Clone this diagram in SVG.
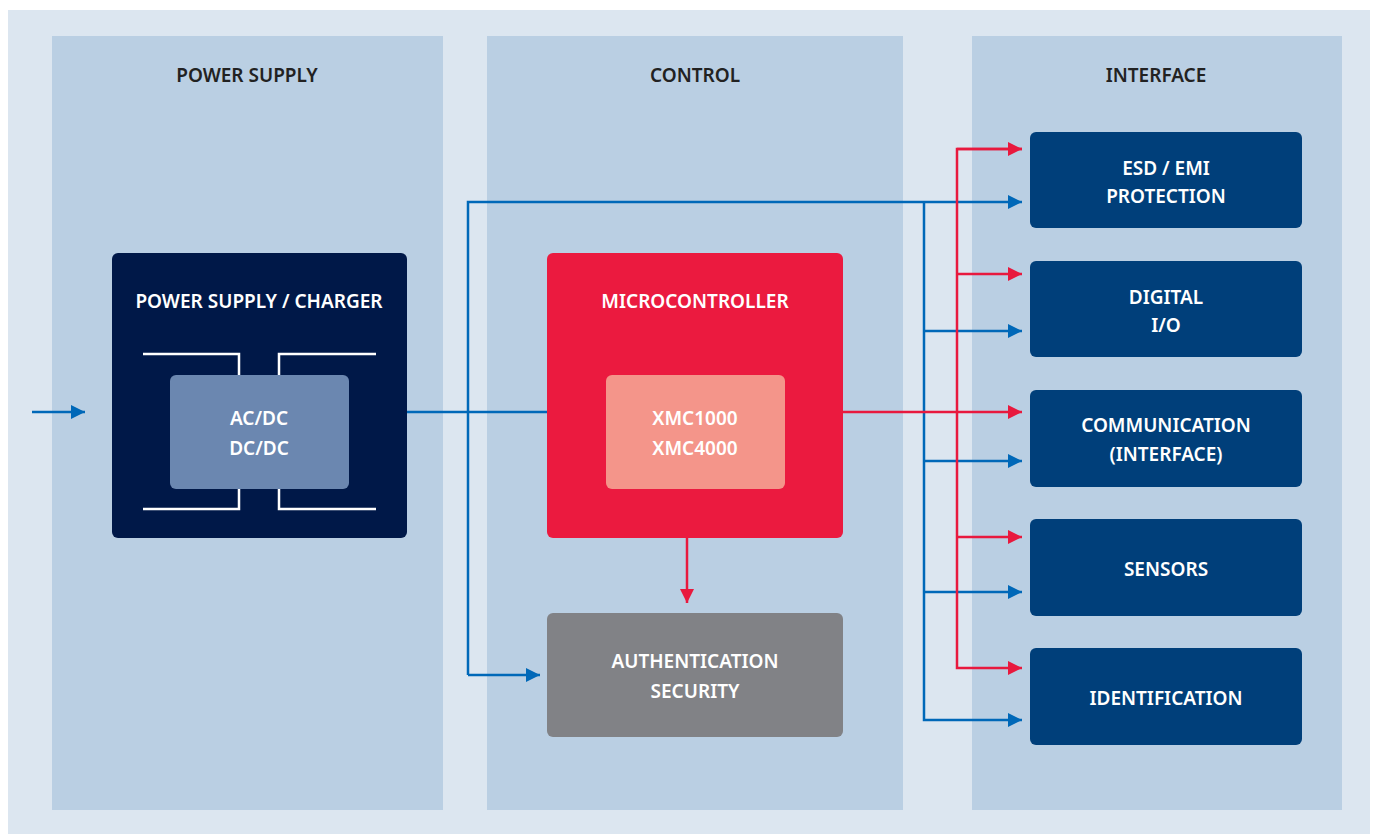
<svg xmlns="http://www.w3.org/2000/svg" width="1377" height="834" viewBox="0 0 1377 834">
<style>
.col{fill:#bacfe3}
.ttl{font-family:"Noto Sans","Open Sans",sans-serif;font-weight:600;font-size:19px;fill:#222;text-anchor:middle}
.lbl{font-family:"Noto Sans","Open Sans",sans-serif;font-weight:600;font-size:19px;fill:#fff;text-anchor:middle}
.ib{fill:#003f7a}
.b{stroke:#0068b8;stroke-width:2.5;fill:none}
.r{stroke:#e8193e;stroke-width:2.5;fill:none}
.w{stroke:#fff;stroke-width:2.5;fill:none}
</style>
<defs>
<marker id="ab" viewBox="0 0 10 10" refX="10" refY="5" markerWidth="18" markerHeight="14" markerUnits="userSpaceOnUse" orient="auto"><path d="M0,0L10,5L0,10z" fill="#0068b8"/></marker>
<marker id="ar" viewBox="0 0 10 10" refX="10" refY="5" markerWidth="18" markerHeight="14" markerUnits="userSpaceOnUse" orient="auto"><path d="M0,0L10,5L0,10z" fill="#e8193e"/></marker>
</defs>
<rect width="1377" height="834" fill="#fff"/>
<rect x="8" y="10" width="1362" height="824" fill="#dce6f0"/>
<g id="col-power"><rect class="col" x="52" y="36" width="391" height="774"/><text class="ttl" x="247" y="82">POWER SUPPLY</text></g>
<g id="col-control"><rect class="col" x="487" y="36" width="416" height="774"/><text class="ttl" x="695" y="82">CONTROL</text></g>
<g id="col-interface"><rect class="col" x="972" y="36" width="370" height="774"/><text class="ttl" x="1156" y="82">INTERFACE</text></g>

<g id="connectors">
<path class="b" d="M32,412H85" marker-end="url(#ab)"/>
<path class="b" d="M407,412H547"/>
<path class="b" d="M468,675V202H1022" marker-end="url(#ab)"/>
<path class="b" d="M468,675H540" marker-end="url(#ab)"/>
<path class="b" d="M924,202V720H1022" marker-end="url(#ab)"/>
<path class="b" d="M924,331H1022" marker-end="url(#ab)"/>
<path class="b" d="M924,461H1022" marker-end="url(#ab)"/>
<path class="b" d="M924,592H1022" marker-end="url(#ab)"/>
<path class="r" d="M843,412H1022" marker-end="url(#ar)"/>
<path class="r" d="M1022,149H957V668H1022" marker-end="url(#ar)"/>
<path class="r" d="M957,149H1022" marker-end="url(#ar)"/>
<path class="r" d="M957,274H1022" marker-end="url(#ar)"/>
<path class="r" d="M957,537H1022" marker-end="url(#ar)"/>
<path class="r" d="M687,538V603" marker-end="url(#ar)"/>
</g>

<g id="power-supply-charger">
<rect x="112" y="253" width="295" height="285" rx="6" fill="#001848"/>
<text class="lbl" x="259" y="308">POWER SUPPLY / CHARGER</text>
<path class="w" d="M143,354H239V375M376,354H279V375M143,509H239V489M376,509H279V489"/>
<rect x="170" y="375" width="179" height="114" rx="6" fill="#6b87b0"/>
<text class="lbl" x="259" y="425">AC/DC</text>
<text class="lbl" x="259" y="455">DC/DC</text>
</g>
<g id="microcontroller">
<rect x="547" y="253" width="296" height="285" rx="6" fill="#eb1a3f"/>
<text class="lbl" x="695" y="308">MICROCONTROLLER</text>
<rect x="606" y="375" width="179" height="114" rx="6" fill="#f4958a"/>
<text class="lbl" x="695" y="425">XMC1000</text>
<text class="lbl" x="695" y="455">XMC4000</text>
</g>
<g id="authentication">
<rect x="547" y="613" width="296" height="124" rx="6" fill="#818286"/>
<text class="lbl" x="695" y="668">AUTHENTICATION</text>
<text class="lbl" x="695" y="698">SECURITY</text>
</g>
<g id="esd-emi"><rect class="ib" x="1030" y="132" width="272" height="96" rx="6"/><text class="lbl" x="1166" y="175">ESD / EMI</text><text class="lbl" x="1166" y="203">PROTECTION</text></g>
<g id="digital-io"><rect class="ib" x="1030" y="261" width="272" height="96" rx="6"/><text class="lbl" x="1166" y="304">DIGITAL</text><text class="lbl" x="1166" y="332">I/O</text></g>
<g id="communication"><rect class="ib" x="1030" y="390" width="272" height="97" rx="6"/><text class="lbl" x="1166" y="432">COMMUNICATION</text><text class="lbl" x="1166" y="461">(INTERFACE)</text></g>
<g id="sensors"><rect class="ib" x="1030" y="519" width="272" height="97" rx="6"/><text class="lbl" x="1166" y="576">SENSORS</text></g>
<g id="identification"><rect class="ib" x="1030" y="648" width="272" height="97" rx="6"/><text class="lbl" x="1166" y="705">IDENTIFICATION</text></g>
</svg>
